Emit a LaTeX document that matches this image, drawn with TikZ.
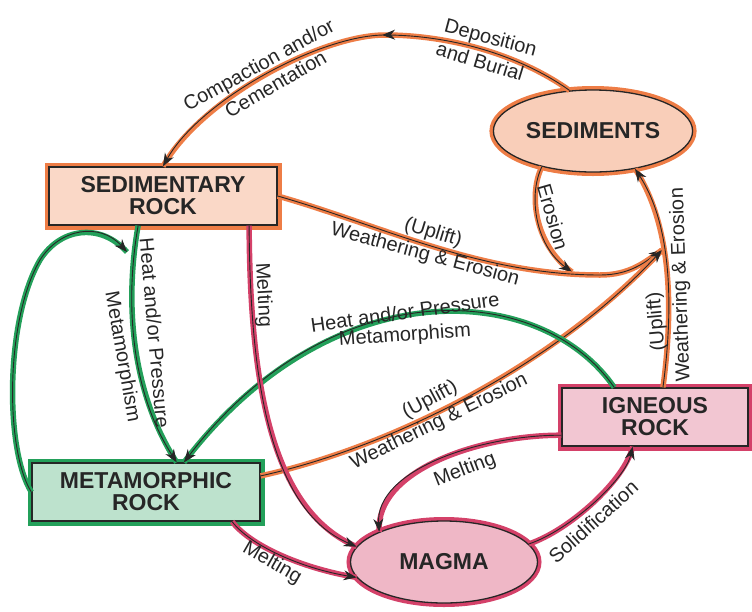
\documentclass[tikz,border=0pt]{standalone}
\usepackage{fontspec}
\setmainfont{Liberation Sans}
\usetikzlibrary{arrows.meta,shapes.geometric,decorations.markings}
\definecolor{sedorange}{RGB}{238,125,70}
\definecolor{metagreen}{RGB}{35,160,90}
\definecolor{ignred}{RGB}{212,65,105}
\newcommand{\rockfont}{\bfseries\fontsize{23}{22}\selectfont}
\newcommand{\linkfont}{\fontsize{20}{23}\selectfont}

\begin{document}
\begin{tikzpicture}[x=1pt, y=-1pt,
  rock/.style={rectangle, draw=black!85, line width=1.3pt, fill=#1!30,
               preaction={draw=#1, line width=9pt},
               minimum width=228pt, minimum height=58pt,
               font=\rockfont, align=center, text=black!85},
  blob/.style={ellipse, draw=black!85, line width=1.3pt, fill=#1!38,
               preaction={draw=#1, line width=8pt},
               minimum width=187pt, minimum height=82pt,
               font=\rockfont, text=black!85},
  link/.style={draw=black!85, line width=0.9pt, -{Stealth[length=13pt,width=10pt]},
               preaction={draw=#1, line width=5.5pt, -}},
  midarr/.style={postaction={decorate, decoration={markings,
               mark=at position #1 with {\arrow{Stealth[length=13pt,width=10pt]}}}}},
  lbl/.style={font=\linkfont, text=black!85, inner sep=0pt}
]
  \useasboundingbox (0,0) rectangle (752,611);

  % rocks
  \node[blob=sedorange] (sediments) at (593,131) {SEDIMENTS};
  \node[rock=sedorange] (sedrock) at (163,196) {SEDIMENTARY\\ROCK};
  \node[rock=metagreen] (metarock) at (146,492) {METAMORPHIC\\ROCK};
  \node[rock=ignred, minimum width=186pt] (igrock) at (655,417) {IGNEOUS\\ROCK};
  \node[blob=ignred] (magma) at (444,562) {MAGMA};

  \coordinate (ejoin) at (572,272);
  \coordinate (wjoin) at (662,250);
  \coordinate (loopend) at (127,252);

  % orange: weathering side
  \draw[link=sedorange, midarr=0.43] (sediments.120)
    .. controls (520,55) and (450,35) .. (385,35)
    .. controls (320,35) and (200,100) .. (sedrock.north);
  \draw[link=sedorange] (sediments.215) .. controls (528,195) and (535,245) .. (ejoin);
  \draw[link=sedorange] (sedrock.east) .. controls (380,225) and (480,275) .. (600,275)
    .. controls (630,275) and (645,262) .. (wjoin);
  \draw[link=sedorange] (metarock.8) .. controls (400,445) and (560,360) .. (wjoin);
  \draw[link=sedorange] (igrock.75) .. controls (672,320) and (675,230) .. (sediments.318);

  % green: metamorphism
  \draw[link=metagreen] (igrock.144) .. controls (540,280) and (330,270) .. (metarock.38);
  \draw[link=metagreen] (sedrock.230) .. controls (125,300) and (130,390) .. (metarock.44);
  \draw[link=metagreen] (metarock.west) .. controls (5,450) and (5,320) .. (40,260)
    .. controls (60,228) and (100,222) .. (loopend);

  % red: melting
  \draw[link=ignred] (sedrock.-19) .. controls (250,380) and (270,510) .. (magma.170);
  \draw[link=ignred] (metarock.-19) .. controls (250,545) and (300,568) .. (magma.190);
  \draw[link=ignred] (igrock.191) .. controls (480,435) and (375,470) .. (magma.155);
  \draw[link=ignred] (magma.12) .. controls (570,530) and (625,480) .. (igrock.233);

  % labels
  \node[lbl, anchor=base, rotate=-15] (deplbl) at (489,44) {Deposition};
  \node[lbl, anchor=base, rotate=-17] (burlbl) at (478,68) {and Burial};
  \node[lbl, anchor=base, rotate=29] (complbl) at (262,71) {Compaction and/or};
  \node[lbl, anchor=base, rotate=30] (cemlbl) at (279,90) {Cementation};
  \node[lbl, rotate=-74] (erolbl) at (553,217) {Erosion};
  \node[lbl, rotate=-17] (upl1) at (433,233) {(Uplift)};
  \node[lbl, rotate=-15] (we1) at (425,255) {Weathering \& Erosion};
  \node[lbl, rotate=95] (upl2) at (657,322) {(Uplift)};
  \node[lbl, rotate=92] (we2) at (681,285) {Weathering \& Erosion};
  \node[lbl, rotate=28] (upl3) at (430,400) {(Uplift)};
  \node[lbl, rotate=26] (we3) at (439,422) {Weathering \& Erosion};
  \node[lbl, rotate=8] (hp1) at (405,312) {Heat and/or Pressure};
  \node[lbl, rotate=4] (mm1) at (405,336) {Metamorphism};
  \node[lbl, rotate=-85] (hp2) at (155,333) {Heat and/or Pressure};
  \node[lbl, rotate=-80] (mm2) at (122,357) {Metamorphism};
  \node[lbl, rotate=-87] (melt1) at (263,295) {Melting};
  \node[lbl, rotate=-30] (melt2) at (272,563) {Melting};
  \node[lbl, rotate=21] (melt3) at (465,470) {Melting};
  \node[lbl, anchor=base, rotate=42] (sollbl) at (598,527) {Solidification};
\end{tikzpicture}
\end{document}
